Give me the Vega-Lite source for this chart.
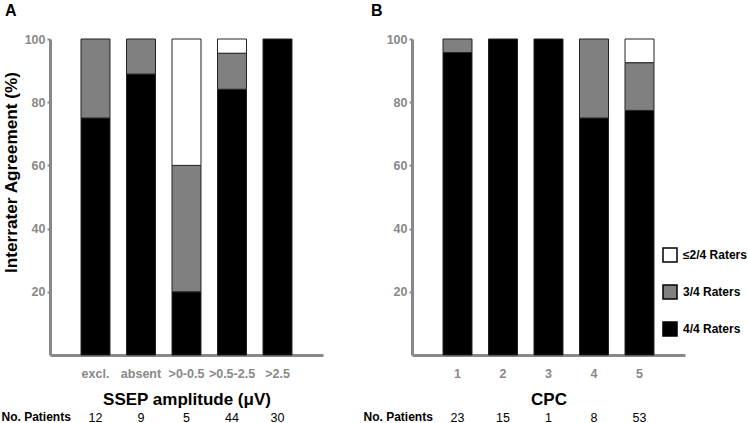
{
  "$schema": "https://vega.github.io/schema/vega-lite/v6.json",
  "padding": {"left": 1, "top": 3, "right": 0, "bottom": 0},
  "bounds": "flush",
  "spacing": 89,
  "config": {
    "view": {"stroke": null},
    "font": "Liberation Sans",
    "axis": {"grid": false, "labelFont": "Liberation Sans", "titleFont": "Liberation Sans"},
    "title": {"font": "Liberation Sans"}
  },
  "resolve": {"scale": {"color": "independent"}, "legend": {"color": "independent"}},
  "hconcat": [
    {
      "width": 273,
      "height": 316,
      "title": {"text": "A", "anchor": "start", "frame": "group", "dx": -45, "offset": 1, "baseline": "alphabetic", "fontSize": 16, "fontWeight": "bold", "color": "black"},
      "data": {"values": [
        {"cat": "excl.", "rater": "4/4 Raters", "pct": 75, "ord": 1, "n": "12"},
        {"cat": "excl.", "rater": "3/4 Raters", "pct": 25, "ord": 2, "n": "12"},
        {"cat": "absent", "rater": "4/4 Raters", "pct": 88.9, "ord": 1, "n": "9"},
        {"cat": "absent", "rater": "3/4 Raters", "pct": 11.1, "ord": 2, "n": "9"},
        {"cat": ">0-0.5", "rater": "4/4 Raters", "pct": 20, "ord": 1, "n": "5"},
        {"cat": ">0-0.5", "rater": "3/4 Raters", "pct": 40, "ord": 2, "n": "5"},
        {"cat": ">0-0.5", "rater": "≤2/4 Raters", "pct": 40, "ord": 3, "n": "5"},
        {"cat": ">0.5-2.5", "rater": "4/4 Raters", "pct": 84.1, "ord": 1, "n": "44"},
        {"cat": ">0.5-2.5", "rater": "3/4 Raters", "pct": 11.4, "ord": 2, "n": "44"},
        {"cat": ">0.5-2.5", "rater": "≤2/4 Raters", "pct": 4.5, "ord": 3, "n": "44"},
        {"cat": ">2.5", "rater": "4/4 Raters", "pct": 100, "ord": 1, "n": "30"}
      ]},
      "layer": [
        {
          "mark": {"type": "bar", "stroke": "#222222", "strokeWidth": 1},
          "encoding": {
            "x": {"field": "cat", "type": "nominal", "sort": null,
              "scale": {"paddingInner": 0.363, "paddingOuter": 0.6815},
              "axis": {"orient": "bottom", "title": "SSEP amplitude (μV)", "titleFontSize": 17, "titleFontWeight": "bold", "titleColor": "black", "titlePadding": 12,
                "labelColor": "#888888", "labelFontWeight": "bold", "labelFontSize": 12.5, "labelPadding": 12, "labelAngle": 0, "ticks": false,
                "domainColor": "#888888", "domainWidth": 3}},
            "y": {"field": "pct", "type": "quantitative", "stack": "zero", "scale": {"domain": [0, 100]},
              "axis": {"values": [20, 40, 60, 80, 100], "title": "Interrater Agreement (%)", "titleFontSize": 17.2, "titleFontWeight": "bold", "titleColor": "black", "titleX": -30, "titleY": 133,
                "labelColor": "#888888", "labelFontWeight": "bold", "labelFontSize": 12.5, "labelPadding": 2,
                "tickSize": 3, "tickColor": "#888888", "tickWidth": 2, "domainColor": "#888888", "domainWidth": 3}},
            "color": {"field": "rater", "type": "nominal",
              "scale": {"domain": ["≤2/4 Raters", "3/4 Raters", "4/4 Raters"], "range": ["#ffffff", "#808080", "#000000"]},
              "legend": null},
            "order": {"field": "ord", "type": "quantitative"}
          }
        },
        {
          "mark": {"type": "text", "text": ""},
          "encoding": {
            "x": {"field": "n", "type": "nominal", "sort": null,
              "scale": {"type": "band", "paddingInner": 0.363, "paddingOuter": 0.6815},
              "axis": {"orient": "bottom", "offset": 56, "domain": false, "ticks": false, "labelPadding": 0, "labelAngle": 0,
                "labelColor": "black", "labelFontSize": 12.5, "labelFontWeight": "normal",
                "title": "No. Patients", "titleX": -49, "titleY": 0, "titleAlign": "left", "titleBaseline": "top",
                "titleFontSize": 12, "titleFontWeight": "bold", "titleColor": "black"}}
          }
        }
      ],
      "resolve": {"scale": {"x": "independent"}, "axis": {"x": "independent"}}
    },
    {
      "width": 273,
      "height": 316,
      "title": {"text": "B", "anchor": "start", "frame": "group", "dx": -41, "offset": 1, "baseline": "alphabetic", "fontSize": 16, "fontWeight": "bold", "color": "black"},
      "data": {"values": [
        {"cat": "1", "rater": "4/4 Raters", "pct": 95.7, "ord": 1, "n": "23"},
        {"cat": "1", "rater": "3/4 Raters", "pct": 4.3, "ord": 2, "n": "23"},
        {"cat": "2", "rater": "4/4 Raters", "pct": 100, "ord": 1, "n": "15"},
        {"cat": "3", "rater": "4/4 Raters", "pct": 100, "ord": 1, "n": "1"},
        {"cat": "4", "rater": "4/4 Raters", "pct": 75, "ord": 1, "n": "8"},
        {"cat": "4", "rater": "3/4 Raters", "pct": 25, "ord": 2, "n": "8"},
        {"cat": "5", "rater": "4/4 Raters", "pct": 77.4, "ord": 1, "n": "53"},
        {"cat": "5", "rater": "3/4 Raters", "pct": 15.1, "ord": 2, "n": "53"},
        {"cat": "5", "rater": "≤2/4 Raters", "pct": 7.5, "ord": 3, "n": "53"}
      ]},
      "layer": [
        {
          "mark": {"type": "bar", "stroke": "#222222", "strokeWidth": 1},
          "encoding": {
            "x": {"field": "cat", "type": "nominal", "sort": null,
              "scale": {"paddingInner": 0.363, "paddingOuter": 0.6815},
              "axis": {"orient": "bottom", "title": "CPC", "titleFontSize": 17, "titleFontWeight": "bold", "titleColor": "black", "titlePadding": 12,
                "labelColor": "#888888", "labelFontWeight": "bold", "labelFontSize": 12.5, "labelPadding": 12, "labelAngle": 0, "ticks": false,
                "domainColor": "#888888", "domainWidth": 3}},
            "y": {"field": "pct", "type": "quantitative", "stack": "zero", "scale": {"domain": [0, 100]},
              "axis": {"values": [20, 40, 60, 80, 100], "title": null,
                "labelColor": "#888888", "labelFontWeight": "bold", "labelFontSize": 12.5, "labelPadding": 2,
                "tickSize": 3, "tickColor": "#888888", "tickWidth": 2, "domainColor": "#888888", "domainWidth": 3}},
            "color": {"field": "rater", "type": "nominal",
              "scale": {"domain": ["≤2/4 Raters", "3/4 Raters", "4/4 Raters"], "range": ["#ffffff", "#808080", "#000000"]},
              "legend": {"orient": "none", "legendX": 250, "legendY": 208, "title": null,
                "symbolType": "square", "symbolSize": 196, "symbolStrokeColor": "black", "symbolStrokeWidth": 1.5, "symbolOpacity": 1,
                "labelFontSize": 12, "labelFontWeight": "bold", "labelColor": "black", "labelOffset": 5, "rowPadding": 17}},
            "order": {"field": "ord", "type": "quantitative"}
          }
        },
        {
          "mark": {"type": "text", "text": ""},
          "encoding": {
            "x": {"field": "n", "type": "nominal", "sort": null,
              "scale": {"type": "band", "paddingInner": 0.363, "paddingOuter": 0.6815},
              "axis": {"orient": "bottom", "offset": 56, "domain": false, "ticks": false, "labelPadding": 0, "labelAngle": 0,
                "labelColor": "black", "labelFontSize": 12.5, "labelFontWeight": "normal",
                "title": "No. Patients", "titleX": -49, "titleY": 0, "titleAlign": "left", "titleBaseline": "top",
                "titleFontSize": 12, "titleFontWeight": "bold", "titleColor": "black"}}
          }
        }
      ],
      "resolve": {"scale": {"x": "independent"}, "axis": {"x": "independent"}}
    }
  ]
}
